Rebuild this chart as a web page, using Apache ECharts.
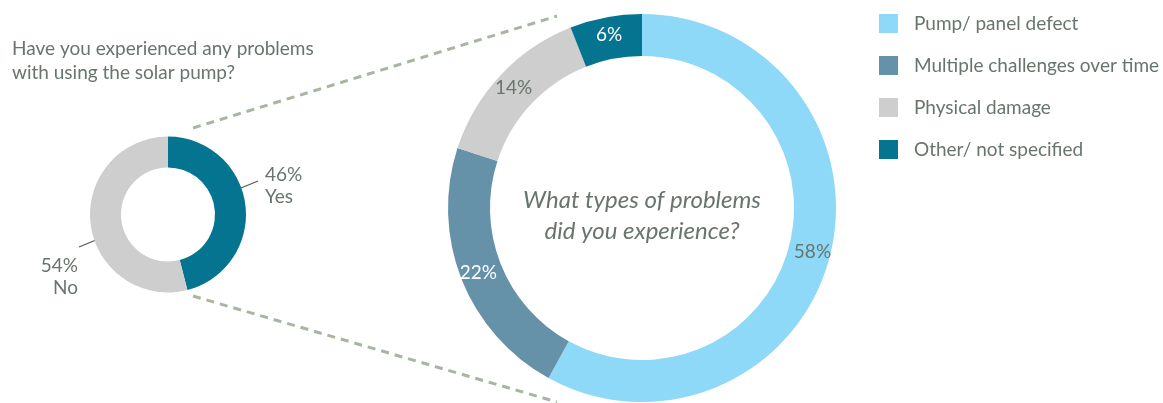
<!DOCTYPE html>
<html>
<head>
<meta charset="utf-8">
<script src="https://cdn.jsdelivr.net/npm/echarts@6/dist/echarts.min.js"></script>
<style>
html,body{margin:0;padding:0;background:#fff;}
#main{width:1163px;height:403px;}
</style>
</head>
<body>
<div id="main"></div>
<script>
// Data
const yesNoNames = ['Yes', 'No'];
const yesNoValues = [46, 54];
const problemNames = ['Pump/ panel defect', 'Multiple challenges over time', 'Physical damage', 'Other/ not specified'];
const problemValues = [58, 22, 14, 6];
const titleText = 'Have you experienced any problems\nwith using the solar pump?';
const centerText = 'What types of problems\ndid you experience?';

const FONT = 'Lato, "Open Sans", sans-serif';
const TXT = '#68756c';
const yesNoColors = ['#057491', '#cecece'];
const problemColors = ['#8ed8f8', '#6591a9', '#cecece', '#057491'];
const problemLabelColors = [TXT, '#ffffff', TXT, '#ffffff'];

const chart = echarts.init(document.getElementById('main'), null, {renderer: 'canvas'});

const dash = {stroke: '#a8b5a3', lineWidth: 3, lineDash: [8, 6]};

chart.setOption({
  animation: false,
  legend: {
    orient: 'vertical',
    left: 874, top: 9,
    data: problemNames,
    icon: 'rect',
    itemWidth: 19, itemHeight: 19, itemGap: 23,
    selectedMode: false,
    textStyle: {fontFamily: FONT, fontSize: 19, color: TXT, padding: [0, 0, 0, 11]}
  },
  graphic: [
    {type: 'text', left: 12, top: 37, style: {text: titleText, font: '19px ' + FONT, fill: TXT, lineHeight: 24}},
    {type: 'line', shape: {x1: 193, y1: 128, x2: 557, y2: 16}, style: dash, silent: true},
    {type: 'line', shape: {x1: 193, y1: 296, x2: 557, y2: 402}, style: dash, silent: true},
    {type: 'text', x: 642, y: 216, style: {text: centerText, font: 'italic 24px ' + FONT, fill: TXT, align: 'center', verticalAlign: 'middle', lineHeight: 31}}
  ],
  series: [
    {
      type: 'pie',
      center: [168, 214.5],
      radius: [47, 78],
      startAngle: 90,
      clockwise: true,
      silent: true,
      data: yesNoNames.map((n, i) => ({name: n, value: yesNoValues[i], itemStyle: {color: yesNoColors[i]}})),
      label: {
        show: true,
        formatter: p => p.value + '%\n' + p.name,
        fontFamily: FONT, fontSize: 19, color: TXT, lineHeight: 22
      },
      labelLine: {show: true, length: 10, length2: 0, lineStyle: {color: '#4f5c54', width: 1.2}},
      labelLayout: function (params) {
        if (params.dataIndex === 0) {
          return {x: 265, y: 186, align: 'left', verticalAlign: 'middle',
            labelLinePoints: [[241, 188], [258, 181], [258, 181]]};
        }
        return {x: 78, y: 277, align: 'right', verticalAlign: 'middle',
          labelLinePoints: [[96, 240], [79, 247], [79, 247]]};
      }
    },
    {
      type: 'pie',
      center: [642, 208],
      radius: [152, 194],
      startAngle: 90,
      clockwise: true,
      silent: true,
      data: problemNames.map((n, i) => ({name: n, value: problemValues[i], itemStyle: {color: problemColors[i]},
        label: {color: problemLabelColors[i]}})),
      label: {
        show: true, position: 'inside',
        formatter: p => p.value + '%',
        fontFamily: FONT, fontSize: 19
      },
      labelLine: {show: false}
    }
  ]
});
</script>
</body>
</html>
